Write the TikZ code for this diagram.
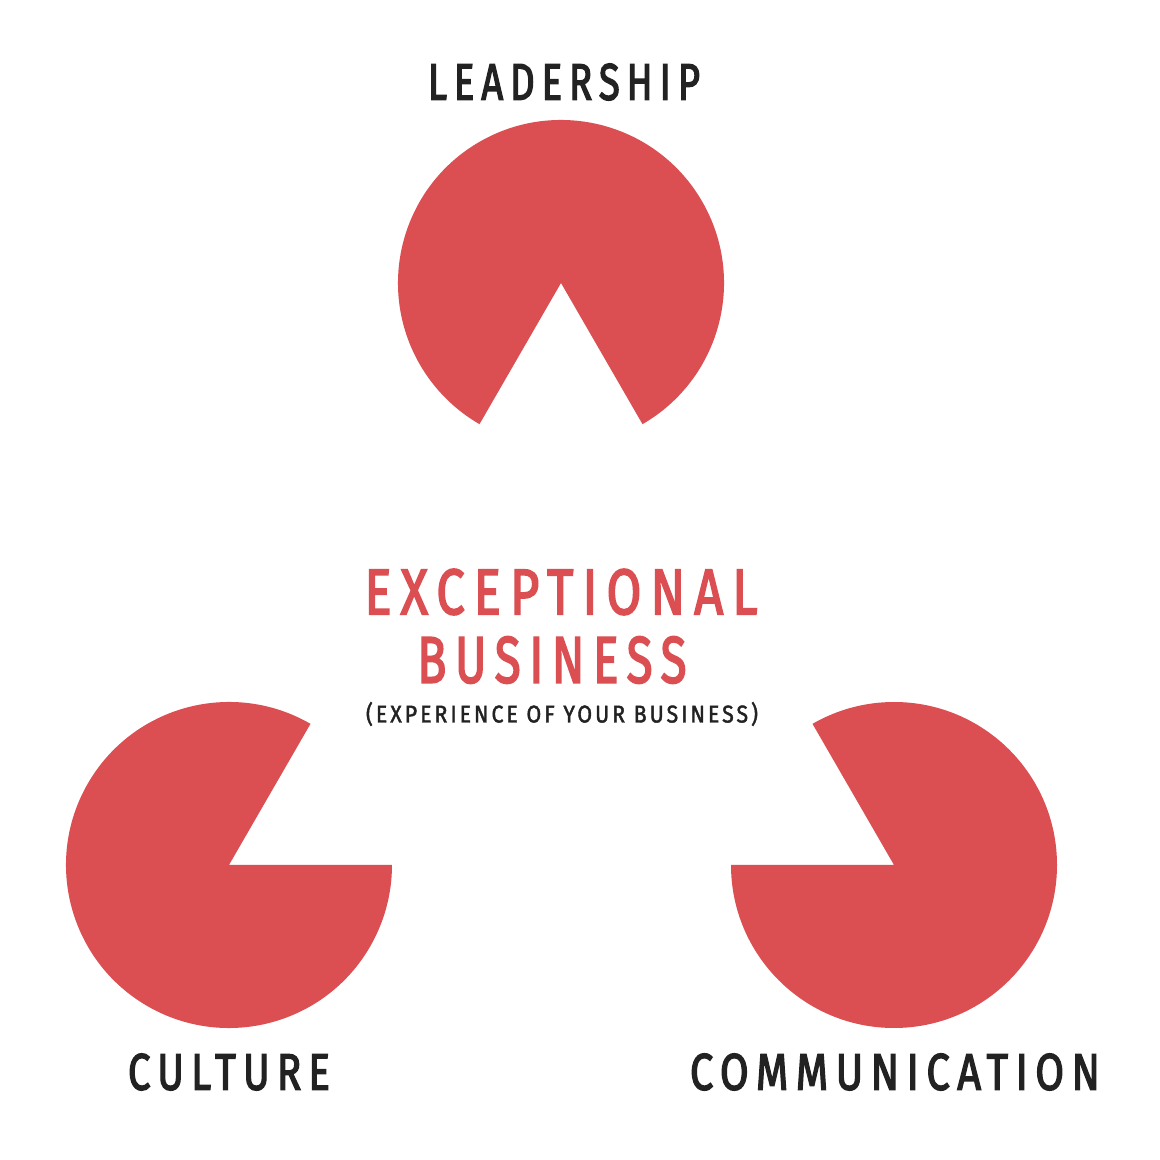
\documentclass[tikz,border=0pt]{standalone}
\usepackage{fontspec}
\usepackage{graphicx}
\setsansfont[LetterSpace=18,FakeBold=3]{Fira Sans}
\newfontfamily\subfont[LetterSpace=14,FakeBold=1.8]{Fira Sans}
\definecolor{kred}{HTML}{DB4F52}
\definecolor{kink}{HTML}{222222}
\begin{document}
\begin{tikzpicture}[x=1pt,y=1pt,
  pac/.style={fill=kred,draw=none},
  lbl/.style={inner sep=0pt,outer sep=0pt,text=kink,font=\sffamily},
  ttl/.style={inner sep=0pt,outer sep=0pt,text=kred,font=\sffamily}]
\useasboundingbox[fill=white] (0,0) rectangle (1160,1160);
% pac-man discs
\coordinate (ct) at (561,877);
\coordinate (cl) at (229,295);
\coordinate (cr) at (894,295);
\fill[pac] (ct) -- ++(-60:163) arc[start angle=-60,end angle=240,radius=163] -- cycle;
\fill[pac] (cl) -- ++(60:163) arc[start angle=60,end angle=360,radius=163] -- cycle;
\fill[pac] (cr) -- ++(180:163) arc[start angle=180,end angle=480,radius=163] -- cycle;
% labels
\node[lbl] (lead) at (564,1078) {\resizebox{272pt}{36pt}{LEADERSHIP}};
\node[lbl] (cult) at (229,88) {\resizebox{202pt}{36pt}{CULTURE}};
\node[lbl] (comm) at (895,88) {\resizebox{410pt}{36pt}{COMMUNICATION}};
\node[ttl] (exc) at (561,568) {\resizebox{393pt}{45pt}{EXCEPTIONAL}};
\node[ttl] (bus) at (552,500) {\resizebox{269pt}{46pt}{BUSINESS}};
\node[lbl,font=\subfont] (sub) at (562,446) {\resizebox*{392pt}{24pt}{(EXPERIENCE OF YOUR BUSINESS)}};
\end{tikzpicture}
\end{document}
